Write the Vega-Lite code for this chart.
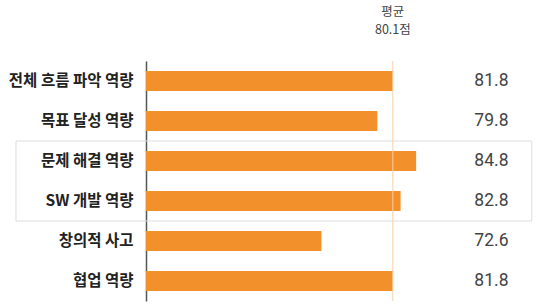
{
  "$schema": "https://vega.github.io/schema/vega-lite/v6.json",
  "width": 392,
  "height": 240,
  "autosize": {"type": "none"},
  "padding": {"left": 146, "top": 61, "right": 0, "bottom": 3},
  "config": {
    "view": {"stroke": null},
    "scale": {"bandPaddingInner": 0.5, "bandPaddingOuter": 0.25},
    "font": "Noto Sans CJK KR"
  },
  "datasets": {
    "scores": [
      {"항목": "전체 흐름 파악 역량", "점수": 81.8},
      {"항목": "목표 달성 역량", "점수": 79.8},
      {"항목": "문제 해결 역량", "점수": 84.8},
      {"항목": "SW 개발 역량", "점수": 82.8},
      {"항목": "창의적 사고", "점수": 72.6},
      {"항목": "협업 역량", "점수": 81.8}
    ],
    "box": [{"x1": 33.25, "x2": 99.7, "y1": 2, "y2": 4}],
    "avg": [
      {"text": "평균", "pos": 81.8, "row": -1.235},
      {"text": "80.1점", "pos": 81.8, "row": -0.78}
    ],
    "avgline": [{"pos": 81.8}]
  },
  "resolve": {"scale": {"y": "independent"}},
  "layer": [
    {
      "data": {"name": "box"},
      "mark": {"type": "rect", "fill": null, "stroke": "#dddddd", "strokeWidth": 1},
      "encoding": {
        "x": {"field": "x1", "type": "quantitative", "scale": {"domain": [50, 100.5], "nice": false, "zero": false}, "axis": null},
        "x2": {"field": "x2"},
        "y": {"field": "y1", "type": "quantitative", "scale": {"domain": [0, 6], "nice": false, "zero": false, "reverse": true}, "axis": null},
        "y2": {"field": "y2"}
      }
    },
    {
      "data": {"name": "scores"},
      "mark": {"type": "bar", "color": "#F2912B"},
      "encoding": {
        "y": {
          "field": "항목", "type": "nominal", "sort": null,
          "axis": {
            "title": null, "ticks": false, "labelPadding": 13,
            "labelFont": "Noto Sans CJK KR", "labelFontSize": 15.5, "labelFontWeight": "bold",
            "labelColor": "#222222", "labelLimit": 300,
            "domainColor": "#555555", "domainWidth": 1.5
          }
        },
        "x": {
          "field": "점수", "type": "quantitative",
          "scale": {"domain": [50, 100.5], "nice": false, "zero": false},
          "axis": {"title": null, "labels": false, "ticks": false, "grid": false, "domainColor": "#555555", "domainWidth": 1.5}
        },
        "x2": {"datum": 50}
      }
    },
    {
      "data": {"name": "avgline"},
      "mark": {"type": "rule", "color": "#F8CFA8", "strokeWidth": 1},
      "encoding": {
        "x": {"field": "pos", "type": "quantitative"}
      }
    },
    {
      "data": {"name": "scores"},
      "mark": {"type": "text", "font": "Roboto", "fontSize": 17.5, "color": "#444444", "align": "center", "baseline": "middle"},
      "encoding": {
        "y": {"field": "항목", "type": "nominal", "sort": null, "axis": null},
        "x": {"datum": 94.5, "type": "quantitative"},
        "text": {"field": "점수", "type": "quantitative", "format": ".1f"}
      }
    },
    {
      "data": {"name": "avg"},
      "mark": {"type": "text", "font": "Noto Sans CJK KR", "fontSize": 12.5, "color": "#444444", "align": "center", "baseline": "middle"},
      "encoding": {
        "x": {"field": "pos", "type": "quantitative"},
        "y": {"field": "row", "type": "quantitative", "scale": {"domain": [0, 6], "nice": false, "zero": false, "reverse": true}, "axis": null},
        "text": {"field": "text"}
      }
    }
  ]
}
